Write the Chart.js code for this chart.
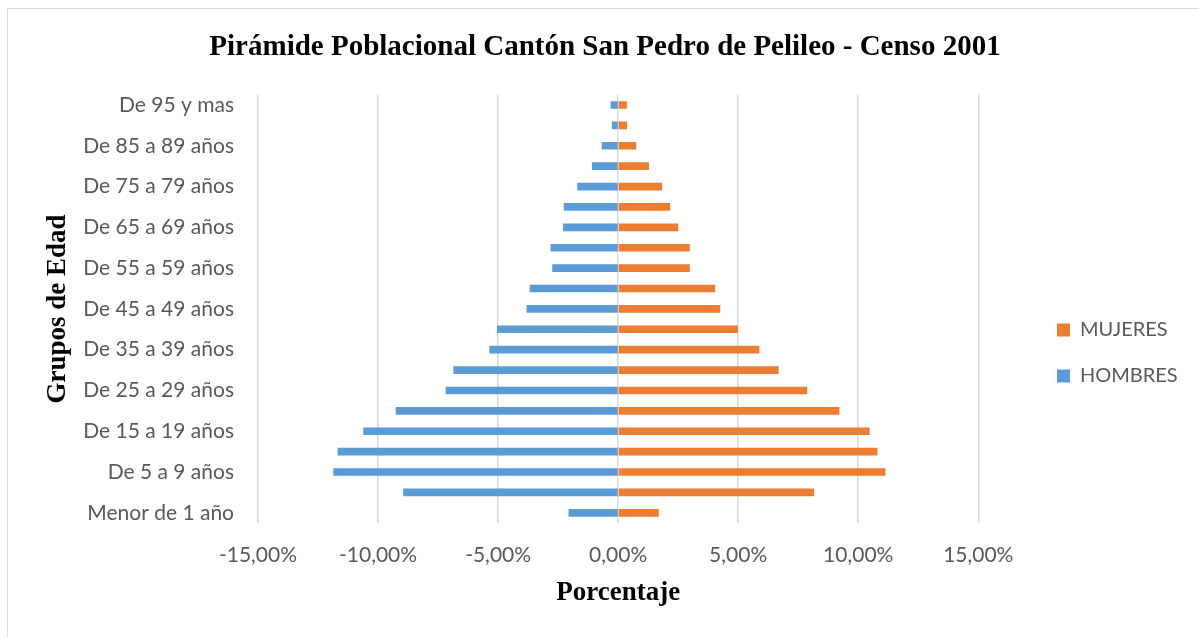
<!DOCTYPE html>
<html>
<head>
<meta charset="utf-8">
<script src="https://cdn.jsdelivr.net/npm/chart.js@4.4.1/dist/chart.umd.min.js"></script>
<style>
  html, body { margin: 0; padding: 0; background: #fff; }
  #wrap { position: relative; width: 1199px; height: 637px; }
  #frame { position: absolute; left: 7px; top: 8px; right: 0; bottom: 0;
           border-top: 1px solid #d9d9d9; border-left: 1px solid #d9d9d9; pointer-events: none; }
</style>
</head>
<body>
<div id="wrap">
  <canvas id="pyramid" width="1199" height="637"></canvas>
  <div id="frame"></div>
</div>
<script>
// grupos de edad, de menor a mayor
const grupos = [
    "Menor de 1 año", "De 1 a 4 años", "De 5 a 9 años", "De 10 a 14 años",
    "De 15 a 19 años", "De 20 a 24 años", "De 25 a 29 años", "De 30 a 34 años",
    "De 35 a 39 años", "De 40 a 44 años", "De 45 a 49 años", "De 50 a 54 años",
    "De 55 a 59 años", "De 60 a 64 años", "De 65 a 69 años", "De 70 a 74 años",
    "De 75 a 79 años", "De 80 a 84 años", "De 85 a 89 años", "De 90 a 94 años",
    "De 95 y mas"
];

// porcentajes (hombres en negativo)
const hombres = [
    -2.05, -8.94, -11.85, -11.67, -10.60, -9.25, -7.17, -6.85, -5.35, -5.03,
    -3.80, -3.67, -2.73, -2.80, -2.28, -2.25, -1.69, -1.08, -0.67, -0.25, -0.30
];
const mujeres = [
    1.68, 8.15, 11.12, 10.79, 10.46, 9.20, 7.86, 6.67, 5.87, 4.97,
    4.24, 4.03, 2.97, 2.97, 2.49, 2.15, 1.82, 1.27, 0.74, 0.36, 0.35
];

const xTicks = [-15, -10, -5, 0, 5, 10, 15];

const fmtPct = v => v.toFixed(2).replace(".", ",") + "%";

const serif = "'Liberation Serif', 'Times New Roman', serif";
const sans = "Lato, sans-serif";

// coloca leyenda y título como en el original
const fixPlacement = {
    id: "fixPlacement",
    afterLayout(chart) {
        const l = chart.legend;
        const w = l.right - l.left, h = l.bottom - l.top;
        l.left = 1031; l.right = 1031 + w;
        l.top = 353 - h / 2; l.bottom = l.top + h;

        const t = chart.titleBlock;
        const dx = 605 - (t.left + t.right) / 2;
        t.left += dx; t.right += dx;
    }
};

new Chart(document.getElementById("pyramid").getContext("2d"), {
    type: "bar",
    data: {
        labels: grupos,
        datasets: [
            {
                label: "HOMBRES",
                data: hombres,
                backgroundColor: "#5B9BD5",
                barThickness: 7,
            },
            {
                label: "MUJERES",
                data: mujeres,
                backgroundColor: "#ED7D31",
                barThickness: 7,
            },
        ],
    },
    options: {
        indexAxis: "y",
        responsive: false,
        animation: false,
        layout: { padding: { top: 4, right: 64, left: 0, bottom: 0 } },
        plugins: {
            title: {
                display: true,
                text: "Pirámide Poblacional Cantón San Pedro de Pelileo - Censo 2001",
                color: "#000",
                font: { family: serif, size: 29, weight: "bold" },
                padding: { top: 26, bottom: 30 },
            },
            legend: {
                position: "right",
                reverse: true,
                labels: {
                    color: "#595959",
                    font: { family: sans, size: 20 },
                    boxWidth: 13,
                    boxHeight: 13,
                    padding: 26,
                },
            },
            tooltip: { enabled: false },
        },
        scales: {
            x: {
                stacked: true,
                min: -15,
                max: 15,
                afterBuildTicks: scale => { scale.ticks = xTicks.map(v => ({ value: v })); },
                ticks: {
                    color: "#595959",
                    font: { family: sans, size: 21 },
                    padding: 20,
                    callback: v => fmtPct(v),
                    maxRotation: 0,
                },
                grid: { color: "#d9d9d9", lineWidth: 1.5, drawTicks: false },
                border: { display: false },
                title: {
                    display: true,
                    text: "Porcentaje",
                    color: "#000",
                    font: { family: serif, size: 27, weight: "bold" },
                    padding: { top: 4, bottom: 28 },
                },
                afterFit: scale => { scale.height = 114; },
            },
            y: {
                stacked: true,
                reverse: true,
                ticks: {
                    color: "#595959",
                    font: { family: sans, size: 21 },
                    padding: 24,
                    autoSkip: false,
                    callback: function (v, i) { return i % 2 === 0 ? this.getLabelForValue(v) : ""; },
                },
                grid: { display: false, drawTicks: false },
                border: { display: false },
                title: {
                    display: true,
                    text: "Grupos de Edad",
                    color: "#000",
                    font: { family: serif, size: 27, weight: "bold" },
                    padding: { top: 42 },
                },
                afterFit: scale => { scale.width = 258; },
            },
        },
    },
    plugins: [fixPlacement],
});
</script>
</body>
</html>
